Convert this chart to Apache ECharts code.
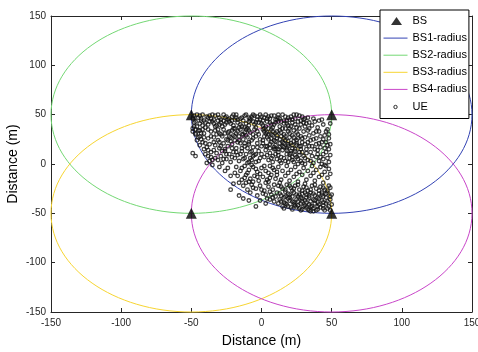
<!DOCTYPE html>
<html>
<head>
<meta charset="utf-8">
<script src="https://cdn.jsdelivr.net/npm/echarts@6/dist/echarts.min.js"></script>
<style>
  html, body { margin: 0; padding: 0; background: #fff; }
  #chart { width: 478px; height: 352px; }
</style>
</head>
<body>
<div id="chart"></div>
<script>
// base stations (BS1..BS4) and coverage radius
var bsNames = ['BS1-radius', 'BS2-radius', 'BS3-radius', 'BS4-radius'];
var bsPos = [[50, 50], [-50, 50], [-50, -50], [50, -50]];
var bsColors = ['#3343b4', '#74d874', '#f7d531', '#c946c9'];
var radius = 100;
var axisTicks = [-150, -100, -50, 0, 50, 100, 150];

// user equipment positions
var uePoints = [
  // top band
  [-48,49],[-45,47],[-42,50],[-39,48],[-36,46],[-33,49],[-30,47],[-27,50],[-24,45],[-21,48],[-18,50],[-15,46],[-12,49],[-9,47],[-6,50],[-3,45],[0,48],[3,50],[6,46],[9,49],[12,47],[15,50],[18,44],[21,48],[24,46],[27,49],[30,45],[33,47],
  [-47,43],[-44,41],[-41,44],[-38,40],[-35,43],[-32,39],[-29,42],[-26,40],[-23,43],[-20,39],[-17,42],[-14,38],[-11,41],[-8,44],[-5,40],[-2,42],[1,39],[4,43],[7,40],[10,42],[13,38],[16,41],[19,39],[22,42],[25,37],[28,40],[31,38],
  [-49,46],[-46,38],[-43,46],[-40,42],[-37,49],[-34,41],[-31,44],[-28,38],[-25,48],[-22,41],[-19,45],[-16,37],[-13,44],[-10,36],[-7,48],[-4,37],[-1,45],[2,36],[5,48],[8,37],[11,45],[14,43],[17,48],[20,36],[23,50],[26,43],[29,48],[34,42],[37,46],[41,44],
  [-44,49],[-35,50],[-18,47],[-9,43],[2,47],[12,50],[-27,44],[-5,49],[20,45],[-40,37],
  [-46,50],[-43,44],[-38,47],[-34,45],[-31,50],[-29,45],[-26,47],[-23,46],[-20,50],[-17,45],[-14,47],[-11,50],[-8,46],[-6,43],[-3,48],[-1,50],[1,44],[4,46],[7,49],[10,45],
  [13,46],[16,44],[19,47],[22,45],[25,50],[28,44],[31,46],[-42,39],[-37,43],[-33,38],[-30,40],[-25,42],[-21,44],[-15,40],[-12,37],[-9,39],[-4,42],[0,41],[3,38],[6,42],
  [9,40],[12,43],[15,36],[18,41],[21,38],[24,40],[27,36],[30,42],[-48,42],[-19,36],
  // left column
  [-49,33],[-47,30],[-45,34],[-48,38],[-44,28],[-46,24],[-49,36],[-42,22],[-47,31],[-44,19],[-43,25],[-41,15],[-40,10],[-38,8],[-37,3],[-36,12],[-39,17],[-41,31],[-38,26],[-36,33],[-42,35],[-37,20],[-35,4],[-44,34],[-38,35],[-36,28],[-49,11],[-47,8],[-39,1],
  [-47,35],[-45,27],[-43,31],[-41,27],[-40,21],[-38,14],[-36,7],[-34,14],[-34,22],[-32,30],[-30,22],[-28,13],[-27,5],[-24,24],[-21,16],
  // centre left
  [-33,34],[-30,31],[-27,35],[-24,32],[-21,34],[-18,31],[-15,35],[-12,32],[-9,34],[-6,30],[-3,33],
  [-34,27],[-31,24],[-28,28],[-25,25],[-22,27],[-19,24],[-16,28],[-13,25],[-10,27],[-7,24],[-4,28],[-1,25],
  [-33,19],[-30,16],[-27,21],[-24,18],[-21,20],[-18,16],[-15,21],[-12,18],[-9,20],[-6,17],[-3,21],[0,18],
  [-32,11],[-29,8],[-26,13],[-23,10],[-20,12],[-17,9],[-14,13],[-11,10],[-8,12],[-5,9],[-2,13],
  [-31,4],[-28,1],[-25,5],[-22,2],[-19,6],[-16,3],[-13,5],[-10,1],[-7,4],[-4,2],[-1,6],
  [-29,30],[-20,29],[-11,29],[-26,15],[-14,16],[-8,6],[-17,22],[-33,6],[-23,33],
  [-31,35],[-26,31],[-23,28],[-19,28],[-16,24],[-12,21],[-10,16],[-7,13],[-4,10],[-2,3],
  [-29,18],[-25,10],[-21,7],[-18,12],[-15,10],[-12,6],[-9,2],[-6,8],[-22,23],[-13,30],
  // centre right
  [1,35],[4,32],[7,35],[10,31],[13,34],[16,30],[19,33],[22,29],[25,32],[28,28],
  [2,28],[5,25],[8,29],[11,26],[14,28],[17,24],[20,27],[23,23],[26,26],[29,22],
  [1,21],[4,18],[7,22],[10,19],[13,21],[16,17],[19,20],[22,16],[25,19],[28,15],
  [3,14],[6,11],[9,15],[12,12],[15,14],[18,10],[21,13],[24,9],[27,12],[30,8],
  [2,7],[5,4],[8,8],[11,5],[14,7],[17,3],[20,6],[23,2],[26,5],[29,1],
  [3,31],[9,24],[15,22],[21,21],[27,18],[6,16],[12,9],[18,14],[24,13],[0,10],
  [5,36],[11,33],[17,36],[23,34],[8,2],[14,1],[20,10],[26,0],[10,15],[16,26],
  [13,17],[19,18],[7,30],[25,24],[22,7],
  [2,33],[5,30],[8,33],[11,29],[14,32],[17,28],[20,31],[23,27],[26,30],[29,26],
  [1,24],[4,27],[7,26],[10,23],[13,25],[16,21],[19,23],[22,19],[25,21],[28,18],
  [3,18],[6,20],[9,17],[12,15],[15,18],[18,16],[21,11],[24,15],[27,9],[29,12],
  [-2,30],[-5,35],[-8,32],[-11,35],[-14,30],[-17,33],[-20,36],[-6,26],[-9,22],[-3,17],
  [4,9],[7,6],[10,10],[13,3],[16,6],[19,2],[22,4],[25,7],[28,3],[31,6],
  // right upper
  [32,41],[36,39],[40,37],[44,40],[47,35],[33,34],[37,31],[41,33],[45,29],[48,26],
  [31,27],[35,24],[39,26],[43,22],[47,19],[34,18],[38,15],[42,17],[46,12],[49,9],
  [32,11],[36,8],[40,10],[44,5],[48,2],[33,4],[37,1],[41,3],[45,-1],[31,20],
  [38,43],[43,45],[49,41],[35,12],[42,28],[46,33],[30,33],[39,20],[48,15],[34,29],
  [33,22],[36,18],[40,14],[44,10],[47,6],[35,3],[39,7],[43,0],[32,15],[37,25],
  [41,21],[45,16],[49,20],[34,36],[39,33],[44,25],[48,30],[31,0],[42,7],[46,22],
  // lower left (sparse)
  [-30,-3],[-26,-7],[-22,-12],[-24,-4],[-35,-1],[-20,-20],
  // lower middle
  [-18,-3],[-15,-7],[-12,-2],[-9,-6],[-6,-3],[-3,-8],[0,-4],[3,-7],[6,-2],[9,-6],
  [-17,-12],[-14,-16],[-11,-11],[-8,-15],[-5,-12],[-2,-17],[1,-13],[4,-16],[7,-11],[10,-15],
  [-13,-22],[-10,-26],[-7,-21],[-4,-25],[-1,-22],[2,-27],[5,-23],[8,-26],
  [-8,-29],[-3,-32],[1,-30],[4,-35],[7,-31],[9,-38],[3,-40],
  [-19,-9],[-16,-19],[-6,-18],[-1,-10],[5,-18],[-11,-19],
  [-16,-32],[-13,-35],[-9,-37],[-4,-43],[-22,-26],
  [-14,-4],[-10,-9],[-7,-1],[-4,-5],[2,-2],[5,-9],[8,-4],[11,-8],[-12,-14],[-9,-18],
  [-3,-13],[3,-19],[6,-14],[9,-21],[-6,-24],[0,-26],[3,-31],[6,-36],[10,-33],[-1,-37],
  // lower right
  [12,-3],[15,-7],[18,-2],[21,-6],[24,-3],[27,-8],[30,-4],[33,-7],[36,-2],[39,-6],[42,-3],[45,-8],[48,-5],
  [11,-11],[14,-16],[17,-12],[20,-17],[23,-13],[26,-18],[29,-11],[32,-16],[35,-12],[38,-17],[41,-13],[44,-19],[47,-14],[49,-10],
  [13,-19],[19,-9],[25,-10],[31,-20],[37,-9],[43,-11],[46,-2],
  // bottom band
  [12,-22],[15,-25],[18,-21],[21,-24],[24,-22],[27,-26],[30,-23],[33,-27],[36,-22],[39,-25],[42,-23],[45,-26],[48,-22],
  [11,-29],[14,-32],[17,-28],[20,-31],[23,-29],[26,-33],[29,-30],[32,-34],[35,-29],[38,-32],[41,-30],[44,-33],[47,-29],[50,-31],
  [13,-36],[16,-39],[19,-35],[22,-38],[25,-36],[28,-40],[31,-37],[34,-41],[37,-36],[40,-39],[43,-37],[46,-40],[49,-36],
  [15,-43],[18,-41],[21,-44],[24,-42],[27,-45],[30,-43],[33,-46],[36,-43],[39,-47],[42,-44],[45,-47],[48,-43],
  [20,-34],[26,-38],[32,-31],[38,-40],[44,-42],[23,-41],[29,-35],[35,-38],[41,-35],[47,-45],[17,-33],[31,-42],[37,-45],[43,-29],
  [27,-31],[34,-34],[40,-43],[46,-34],[22,-27],[28,-47],[35,-48],[8,-34],[6,-28],[12,-40],
  [14,-23],[17,-26],[20,-22],[23,-25],[26,-21],[29,-27],[32,-24],[35,-26],[38,-21],[41,-27],[44,-24],[47,-27],[49,-24],
  [13,-30],[16,-34],[19,-30],[22,-33],[25,-31],[28,-34],[31,-29],[34,-32],[37,-30],[40,-34],[43,-31],[46,-30],[49,-33],
  [14,-38],[17,-40],[20,-37],[23,-39],[26,-42],[29,-38],[32,-39],[35,-43],[38,-37],[41,-41],[44,-39],[47,-38],[50,-41],
  [16,-45],[19,-43],[22,-46],[25,-44],[29,-46],[32,-44],[34,-47],[37,-48],[40,-46],[44,-45],[49,-47]
];

var axisColor = '#262626';
var font = '"Liberation Sans", Arial, Helvetica, sans-serif';

function makeAxis(pos, isMain, name) {
  return {
    type: 'value', position: pos,
    min: -150, max: 150, interval: 50,
    name: isMain ? name : '',
    nameLocation: 'middle',
    nameGap: pos === 'bottom' ? 22 : 31,
    nameMoveOverlap: false,
    nameTextStyle: { color: '#000', fontSize: 14, fontFamily: font },
    axisLine: { show: true, onZero: false, lineStyle: { color: axisColor, width: 1 } },
    axisTick: { show: true, inside: true, length: 4, lineStyle: { color: axisColor } },
    axisLabel: { show: isMain, color: axisColor, fontSize: 10, fontFamily: font, margin: pos === 'bottom' ? 6 : 5,
      customValues: axisTicks },
    splitLine: { show: false }
  };
}

function circleSeries(i) {
  var color = bsColors[i];
  return {
    name: bsNames[i],
    type: 'custom',
    coordinateSystem: 'cartesian2d',
    itemStyle: { color: color },
    data: [[bsPos[i][0], bsPos[i][1], radius]],
    silent: true,
    renderItem: function (params, api) {
      var c = api.coord([api.value(0), api.value(1)]);
      var s = api.size([api.value(2), api.value(2)]);
      return {
        type: 'ellipse',
        shape: { cx: c[0], cy: c[1], rx: s[0], ry: s[1] },
        style: { fill: 'none', stroke: color, lineWidth: 1 }
      };
    }
  };
}

var box = 'path://M0,0M24,12';
var legendData = [
  { name: 'BS', icon: box + 'M7.5,10L13,2L18.5,10Z', itemStyle: { color: '#000' } }
];
for (var i = 0; i < 4; i++) {
  legendData.push({ name: bsNames[i], icon: box + 'M0,5.5h24v1h-24z', itemStyle: { color: bsColors[i], borderWidth: 0 } });
}
legendData.push({ name: 'UE', icon: box + 'M10.3,6a1.7,1.7 0 1,0 3.4,0a1.7,1.7 0 1,0 -3.4,0',
  itemStyle: { color: 'rgba(0,0,0,0)', borderColor: '#000', borderWidth: 1 } });

var series = [{
  name: 'BS',
  type: 'scatter',
  symbol: 'triangle',
  symbolSize: 11,
  itemStyle: { color: '#000' },
  data: bsPos,
  silent: true
}];
for (var j = 0; j < 4; j++) series.push(circleSeries(j));
series.push({
  name: 'UE',
  type: 'scatter',
  symbol: 'circle',
  symbolSize: 3.6,
  itemStyle: { color: 'rgba(0,0,0,0)', borderColor: '#111', borderWidth: 1.3 },
  data: uePoints,
  silent: true
});

var chart = echarts.init(document.getElementById('chart'));
chart.setOption({
  animation: false,
  backgroundColor: '#fff',
  grid: { left: 51, right: 6, top: 16, bottom: 40, containLabel: false, outerBoundsMode: 'none' },
  xAxis: [makeAxis('bottom', true, 'Distance (m)'), makeAxis('top', false)],
  yAxis: [makeAxis('left', true, 'Distance (m)'), makeAxis('right', false)],
  legend: {
    orient: 'vertical',
    left: 380, top: 10,
    itemWidth: 24, itemHeight: 12, itemGap: 5.1,
    padding: [5, 2, 5, 3],
    backgroundColor: '#fff',
    borderColor: '#000', borderWidth: 1,
    textStyle: { color: '#000', fontSize: 11, fontFamily: font, lineHeight: 12 },
    data: legendData
  },
  series: series
});
</script>
</body>
</html>
